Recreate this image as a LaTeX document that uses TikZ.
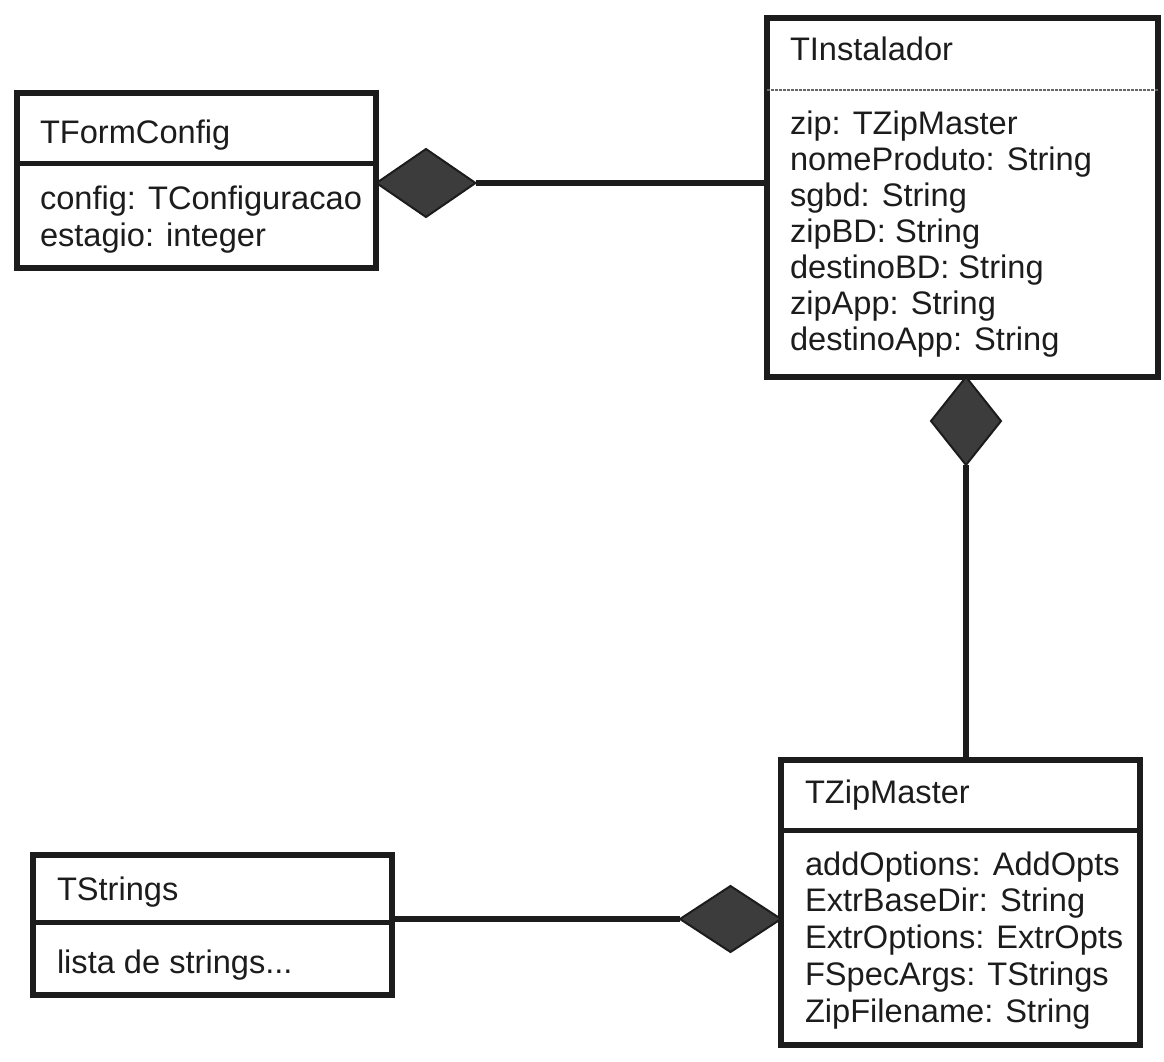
\documentclass[tikz,border=0pt]{standalone}
\usepackage{fontspec}
\setmainfont{Liberation Sans}
\usetikzlibrary{shapes.geometric}

\definecolor{ink}{HTML}{1C1C1C}
\definecolor{diafill}{HTML}{3C3C3C}

\tikzset{
  classbox/.style={draw=ink, line width=5.5pt, rectangle, inner sep=0pt, outer sep=0pt, anchor=north west},
  sepline/.style={draw=ink, line width=5pt},
  thinsep/.style={draw=black!60, line width=1.5pt, dash pattern=on 3pt off 1pt},
  txt/.style={text=ink, inner sep=0pt, outer sep=0pt, anchor=base west,
              font=\fontsize{32.6}{36}\selectfont},
  compo/.style={shape=diamond, draw=ink, fill=diafill, line width=2pt, inner sep=0pt, outer sep=0pt},
  link/.style={draw=ink, line width=5.5pt}
}

\begin{document}
\begin{tikzpicture}[x=1pt, y=-1pt]
  \useasboundingbox (0,0) rectangle (1164,1061);

  % TFormConfig
  \node[classbox, minimum width=359pt, minimum height=175pt] (form) at (17,93) {};
  \draw[sepline] (form.west |- 0,163) -- (form.east |- 0,163);
  \node[txt] (formName) at (40,143) {TFormConfig};
  \node[txt] (formA1) at (40,209) {config: TConfiguracao};
  \node[txt] (formA2) at (40,246) {estagio: integer};

  % TInstalador
  \node[classbox, minimum width=391pt, minimum height=359pt] (inst) at (767,18) {};
  \draw[thinsep] (inst.west |- 0,90) -- (inst.east |- 0,90);
  \node[txt] (instName) at (790,60) {TInstalador};
  \foreach \t [count=\i] in {zip: TZipMaster, nomeProduto: String, sgbd: String,
      zipBD: String, destinoBD: String, zipApp: String, destinoApp: String}
    \node[txt] (instA\i) at (790,{134+36*(\i-1)}) {\t};

  % TZipMaster
  \node[classbox, minimum width=359pt, minimum height=285pt] (zipm) at (781,760) {};
  \draw[sepline] (zipm.west |- 0,830) -- (zipm.east |- 0,830);
  \node[txt] (zipName) at (805,803) {TZipMaster};
  \foreach \t [count=\i] in {addOptions: AddOpts, ExtrBaseDir: String, ExtrOptions: ExtrOpts,
      FSpecArgs: TStrings, ZipFilename: String}
    \node[txt] (zipA\i) at (805,{875+36.8*(\i-1)}) {\t};

  % TStrings
  \node[classbox, minimum width=359pt, minimum height=140pt] (strs) at (33,855) {};
  \draw[sepline] (strs.west |- 0,922) -- (strs.east |- 0,922);
  \node[txt] (strName) at (57,900) {TStrings};
  \node[txt] (strA1) at (57,973) {lista de strings...};

  % composition diamonds
  \node[compo, minimum width=99pt, minimum height=68pt] (d1) at (426,183) {};
  \node[compo, minimum width=70pt, minimum height=88pt] (d2) at (966,421) {};
  \node[compo, minimum width=101pt, minimum height=66pt] (d3) at (730.5,919) {};

  % connectors
  \draw[link] (d1.east) -- (d1.east -| inst.west);
  \draw[link] (d2.south) -- (d2.south |- zipm.north);
  \draw[link] (d3.west -| strs.east) -- (d3.west);
\end{tikzpicture}
\end{document}
